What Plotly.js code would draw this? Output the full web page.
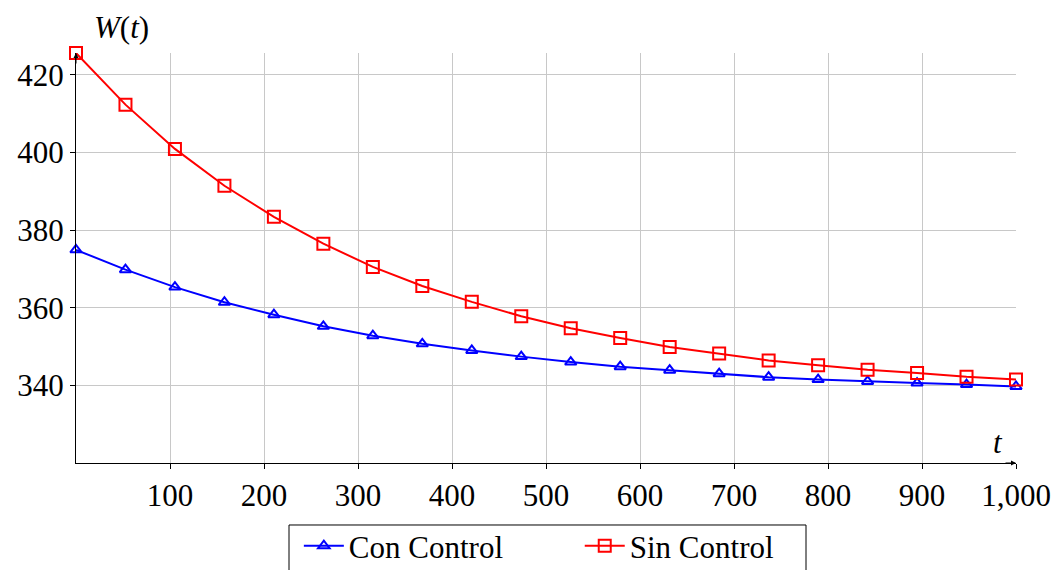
<!DOCTYPE html>
<html>
<head>
<meta charset="utf-8">
<script src="https://cdn.plot.ly/plotly-3.0.1.min.js"></script>
<style>html,body{margin:0;padding:0;background:#fff;}#chart{width:1056px;height:570px;}</style>
</head>
<body>
<div id="chart"></div>
<script>
const t = [0, 52.63, 105.26, 157.89, 210.53, 263.16, 315.79, 368.42, 421.05, 473.68,
           526.32, 578.95, 631.58, 684.21, 736.84, 789.47, 842.11, 894.74, 947.37, 1000];
const conControl = [374.9, 369.8, 365.3, 361.4, 358.2, 355.2, 352.8, 350.7, 349.0, 347.4,
                    346.0, 344.8, 343.9, 343.0, 342.1, 341.5, 341.0, 340.6, 340.2, 339.7];
const sinControl = [425.6, 412.3, 400.9, 391.4, 383.4, 376.5, 370.5, 365.6, 361.5, 357.8,
                    354.7, 352.2, 349.9, 348.2, 346.4, 345.2, 344.0, 343.2, 342.2, 341.5];
const seriesNames = ["Con Control", "Sin Control"];
const xTickVals = [100, 200, 300, 400, 500, 600, 700, 800, 900, 1000];
const xTickText = ["100", "200", "300", "400", "500", "600", "700", "800", "900", "1,000"];
const yTickVals = [340, 360, 380, 400, 420];

const font = "Liberation Serif";
const fs = 31;

const traces = [
  {
    x: t, y: conControl, name: seriesNames[0], type: "scatter", mode: "lines+markers",
    line: {color: "#0000ff", width: 2},
    marker: {symbol: "triangle-up-open", size: 10, color: "#0000ff", line: {width: 2, color: "#0000ff"}},
    cliponaxis: false, legend: "legend"
  },
  {
    x: t, y: sinControl, name: seriesNames[1], type: "scatter", mode: "lines+markers",
    line: {color: "#ff0000", width: 2},
    marker: {symbol: "square-open", size: 12, color: "#ff0000", line: {width: 2, color: "#ff0000"}},
    cliponaxis: false, legend: "legend2"
  }
];

function legendAt(xc) {
  return {
    orientation: "h", x: xc, xanchor: "left", xref: "container",
    y: 0.0895, yanchor: "top", yref: "container",
    bgcolor: "rgba(0,0,0,0)", borderwidth: 0,
    font: {family: font, size: fs, color: "#000"}, itemwidth: 40
  };
}

const layout = {
  width: 1056, height: 570,
  margin: {l: 76, r: 40, t: 53, b: 107},
  paper_bgcolor: "#ffffff", plot_bgcolor: "#ffffff",
  font: {family: font, size: fs, color: "#000"},
  showlegend: true,
  legend: legendAt(0.283),
  legend2: legendAt(0.549),
  shapes: [
    {type: "rect", xref: "paper", yref: "paper", x0: 0.2266, x1: 0.7766, y0: -0.1512, y1: -0.30,
     line: {color: "#000", width: 1}, fillcolor: "rgba(0,0,0,0)", layer: "below"}
  ],
  xaxis: {
    range: [0, 1000], tickmode: "array", tickvals: xTickVals, ticktext: xTickText,
    showgrid: true, gridcolor: "#c8c8c8", gridwidth: 1,
    showline: true, linecolor: "#000", linewidth: 1,
    ticks: "outside", ticklen: 5, tickcolor: "#000", automargin: false,
    zeroline: false, tickfont: {family: font, size: fs, color: "#000"}
  },
  yaxis: {
    range: [320, 425.6], tickmode: "array", tickvals: yTickVals,
    showgrid: true, gridcolor: "#c8c8c8", gridwidth: 1,
    showline: true, linecolor: "#000", linewidth: 1,
    ticks: "outside", ticklen: 5, tickcolor: "#000", automargin: false,
    zeroline: false, tickfont: {family: font, size: fs, color: "#000"}
  },
  annotations: [
    {xref: "paper", yref: "paper", x: 0.048, xanchor: "center", y: 1.0, yanchor: "bottom", yshift: 6,
     text: "<i>W</i>(<i>t</i>)", showarrow: false, font: {family: font, size: fs, color: "#000"}},
    {xref: "paper", yref: "paper", x: 0.981, xanchor: "center", y: 0.05, yanchor: "middle",
     text: "<i>t</i>", showarrow: false, font: {family: font, size: fs, color: "#000"}},
    {xref: "paper", yref: "paper", x: 1.0, y: 0, ax: -12, ay: 0, text: "",
     showarrow: true, arrowhead: 2, arrowsize: 1, arrowwidth: 1, arrowcolor: "#000"},
    {xref: "paper", yref: "paper", x: 0, y: 1.0, ax: 0, ay: 12, text: "",
     showarrow: true, arrowhead: 2, arrowsize: 1, arrowwidth: 1, arrowcolor: "#000"}
  ]
};

Plotly.newPlot("chart", traces, layout, {displayModeBar: false, staticPlot: true});
</script>
</body>
</html>
